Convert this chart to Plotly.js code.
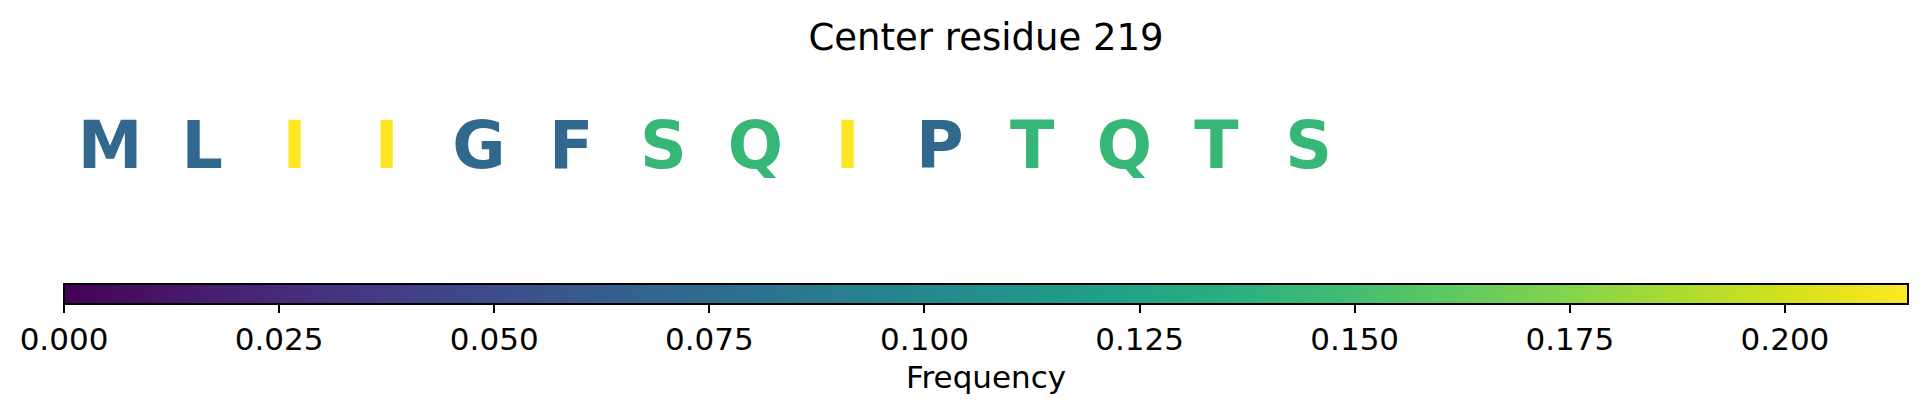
<!DOCTYPE html>
<html>
<head>
<meta charset="utf-8">
<script src="https://cdn.plot.ly/plotly-3.0.1.min.js"></script>
<style>
  html, body { margin: 0; padding: 0; background: #ffffff; }
  #chart { width: 1927px; height: 416px; }
</style>
</head>
<body>
<div id="chart"></div>
<script>
// Sequence window around the centre residue
const residues = ['M', 'L', 'I', 'I', 'G', 'F', 'S', 'Q', 'I', 'P', 'T', 'Q', 'T', 'S'];
const positions = [0, 1, 2, 3, 4, 5, 6, 7, 8, 9, 10, 11, 12, 13];
// Frequency of each residue type within the window
const frequencies = [0.0714, 0.0714, 0.2143, 0.2143, 0.0714, 0.0714, 0.1429,
                     0.1429, 0.2143, 0.0714, 0.1429, 0.1429, 0.1429, 0.1429];
const centerResidue = 219;
const freqTicks = [0, 0.025, 0.05, 0.075, 0.1, 0.125, 0.15, 0.175, 0.2];

// Viridis colour stops shared by the colour bar and the letters
const viridis = [
  [0.0, '#440154'], [0.0627, '#48186a'], [0.1255, '#472d7b'], [0.1882, '#424086'],
  [0.2510, '#3b528b'], [0.3137, '#33638d'], [0.3765, '#2c728e'], [0.4392, '#26828e'],
  [0.5020, '#21918c'], [0.5647, '#1fa088'], [0.6275, '#28ae80'], [0.6902, '#3fbc73'],
  [0.7529, '#5ec962'], [0.8157, '#84d44b'], [0.8784, '#addc30'], [0.9412, '#d8e219'],
  [1.0, '#fde725']
];

function hexToRgb(h) {
  return [parseInt(h.slice(1, 3), 16), parseInt(h.slice(3, 5), 16), parseInt(h.slice(5, 7), 16)];
}

function colorAt(t) {
  t = Math.max(0, Math.min(1, t));
  for (let k = 1; k < viridis.length; k++) {
    if (t <= viridis[k][0]) {
      const [t0, c0] = viridis[k - 1];
      const [t1, c1] = viridis[k];
      const f = (t - t0) / (t1 - t0);
      const a = hexToRgb(c0), b = hexToRgb(c1);
      const rgb = a.map((v, i) => Math.round(v + (b[i] - v) * f));
      return 'rgb(' + rgb.join(',') + ')';
    }
  }
  return viridis[viridis.length - 1][1];
}

const fMax = Math.max(...frequencies);
const letterColors = frequencies.map(f => colorAt(f / fMax));

const trace = {
  type: 'scatter',
  mode: 'markers+text',
  x: positions,
  y: positions.map(() => 0.5),
  text: residues,
  textposition: 'middle center',
  textfont: { family: 'DejaVu Sans', size: 65, weight: 'bold', color: letterColors },
  hoverinfo: 'skip',
  marker: {
    size: 1,
    opacity: 0,
    color: frequencies,
    colorscale: viridis,
    cmin: 0,
    cmax: fMax,
    showscale: true,
    colorbar: {
      orientation: 'h',
      x: 0.5, xanchor: 'center', xref: 'paper',
      y: 1 - 284 / 416, yanchor: 'top', yref: 'paper',
      len: 1, lenmode: 'fraction',
      thickness: 20, thicknessmode: 'pixels',
      xpad: 0, ypad: 0,
      outlinewidth: 2, outlinecolor: '#000000',
      ticks: 'outside', ticklen: 8, tickwidth: 2, tickcolor: '#000000',
      tickvals: freqTicks, tickformat: '.3f',
      tickfont: { family: 'DejaVu Sans', size: 31, color: '#000000' },
      title: { text: 'Frequency', side: 'bottom', font: { family: 'DejaVu Sans', size: 31, color: '#000000' } }
    }
  }
};

const layout = {
  width: 1927,
  height: 416,
  paper_bgcolor: '#ffffff',
  plot_bgcolor: '#ffffff',
  margin: { l: 64, r: 19, t: 0, b: 0 },
  showlegend: false,
  title: {
    text: 'Center residue ' + centerResidue,
    font: { family: 'DejaVu Sans', size: 37, color: '#000000' },
    x: 0.5, xref: 'paper', xanchor: 'center',
    y: 1 - 37 / 416, yref: 'container', yanchor: 'middle'
  },
  xaxis: { range: [-0.5, 19.5], visible: false, fixedrange: true },
  yaxis: { domain: [1 - 303 / 416, 1], range: [0, 1], visible: false, fixedrange: true }
};

Plotly.newPlot('chart', [trace], layout, { displayModeBar: false, staticPlot: true });
</script>
</body>
</html>
